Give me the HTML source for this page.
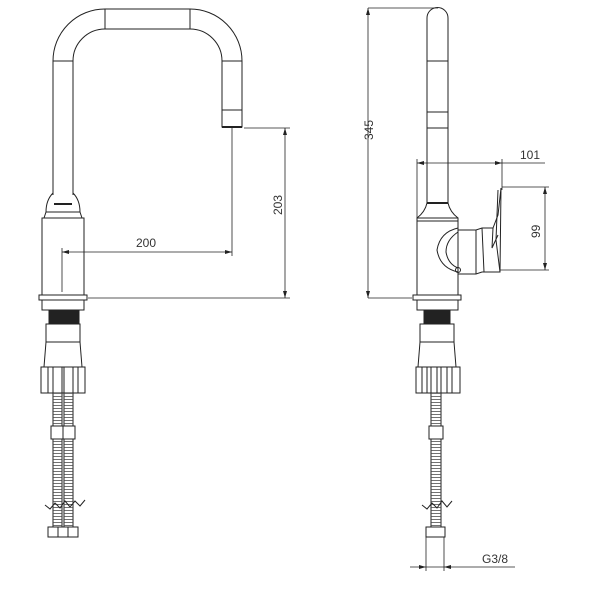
<!DOCTYPE html>
<html><head><style>
html,body{margin:0;padding:0;background:#fff;}
svg{display:block;}
text{font-family:"Liberation Sans",sans-serif;font-size:12px;fill:#333;}
</style></head><body>
<svg width="600" height="600" viewBox="0 0 600 600" xmlns="http://www.w3.org/2000/svg">
<g fill="none" stroke="#222" stroke-width="1">
<path d="M53,195 L53,61 A52,52 0 0 1 105,9 L190,9 A52,52 0 0 1 242,61 L242,110"/>
<path d="M73,195 L73,61 A32,32 0 0 1 105,29 L190,29 A32,32 0 0 1 222,61 L222,110"/>
<line x1="105" y1="9" x2="105" y2="29"/><line x1="190" y1="9" x2="190" y2="29"/>
<line x1="53" y1="61" x2="73" y2="61"/><line x1="222" y1="61" x2="242" y2="61"/>
<rect x="222" y="110" width="20" height="17"/>
<line x1="222" y1="127" x2="242" y2="127" stroke-width="2"/>
<path d="M53,193 Q46,200 46,212 L44,218 M73,193 Q80,200 80,212 L82,218"/>
<line x1="54" y1="204" x2="72" y2="204" stroke-width="2"/>
<line x1="46" y1="212" x2="80" y2="212"/>
<rect x="42" y="218" width="42" height="77"/>
<rect x="39" y="295" width="48" height="5"/>
<rect x="42" y="300" width="42" height="10"/>
<rect x="49" y="311" width="30" height="12" fill="#222"/>
<rect x="46" y="324" width="34" height="18"/>
<path d="M46,342 L44,367 L82,367 L80,342"/>
<rect x="41" y="367" width="44" height="26"/>
<path d="M48,367V393M53,367V393M62,367V393M64,367V393M73,367V393M78,367V393"/>
<rect x="53" y="393" width="9" height="134"/>
<rect x="64" y="393" width="9" height="134"/>
<line x1="57.5" y1="393" x2="57.5" y2="527" stroke-width="9" stroke-dasharray="0.7 2.3" stroke="#444"/>
<line x1="68.5" y1="393" x2="68.5" y2="527" stroke-width="9" stroke-dasharray="0.7 2.3" stroke="#444"/>
<rect x="51" y="426" width="12" height="13" fill="#fff"/>
<rect x="63" y="426" width="12" height="13" fill="#fff"/>
<rect x="48" y="527" width="30" height="10" fill="#fff"/>
<path d="M58,527V537M68,527V537"/>
<path d="M45,505 l5,4 l5,-6 l5,5 l5,-7 l5,6 l5,-6 l5,5 l5,-6"/>
<line x1="62" y1="252" x2="232" y2="252" stroke-width="0.8"/>
<line x1="232" y1="128" x2="232" y2="256" stroke-width="0.8"/>
<line x1="62" y1="248" x2="62" y2="292" stroke-width="0.8"/>
<line x1="244" y1="128" x2="290" y2="128" stroke-width="0.8"/>
<line x1="88" y1="298" x2="290" y2="298" stroke-width="0.8"/>
<line x1="285" y1="128" x2="285" y2="298" stroke-width="0.8"/>
</g>
<g fill="#222">
<path d="M62,252 l7,-2 v4z M232,252 l-7,-2 v4z M285,128 l-2,7 h4z M285,298 l-2,-7 h4z"/>
<path d="M368,8 l-2,7 h4z M368,298 l-2,-7 h4z M417,163 l7,-2 v4z M502,163 l-7,-2 v4z M545,187 l-2,7 h4z M545,270 l-2,-7 h4z M426,567 l-7,-2 v4z M444,567 l7,-2 v4z"/>
</g>
<text x="136" y="247">200</text>
<text x="0" y="0" transform="translate(282,215) rotate(-90)">203</text>
<g fill="none" stroke="#222" stroke-width="1">
<path d="M427,203 L427,18 A10.5,10.5 0 0 1 448,18 L448,203"/>
<line x1="427" y1="61" x2="448" y2="61"/>
<rect x="427" y="112" width="21" height="16"/>
<line x1="427" y1="203" x2="448" y2="203" stroke-width="2"/>
<path d="M427,203 Q425,212 417,218 M448,203 Q450,212 458,218"/>
<line x1="417" y1="218" x2="458" y2="218"/><line x1="417" y1="221" x2="458" y2="221"/>
<rect x="417" y="218" width="41" height="77"/>
<rect x="413" y="295" width="48" height="5"/>
<rect x="417" y="300" width="41" height="10"/>
<rect x="424" y="311" width="26" height="12" fill="#222"/>
<rect x="420" y="324" width="34" height="18"/>
<path d="M420,342 L418,367 L456,367 L454,342"/>
<rect x="416" y="367" width="44" height="26"/>
<path d="M422,367V393M427,367V393M431,367V393M437,367V393M441,367V393M447,367V393M452,367V393"/>
<path d="M458,228 Q440,232 437,250 Q440,268 458,272"/>
<path d="M458,232 Q446,240 446,252 Q448,264 458,268"/>
<circle cx="458" cy="270" r="2.5"/>
<path d="M458,230 L476,230 L482,228 L493,228 L498,215 L501,188 L500,272 L482,272 L476,274 L458,274"/>
<path d="M476,230 L476,274 M482,228 L484,272 M493,228 L492,248 L498,235"/>
<path d="M498,190 L496,240 L500,272"/>
<rect x="431" y="393" width="10" height="134"/>
<line x1="436" y1="393" x2="436" y2="527" stroke-width="10" stroke-dasharray="0.7 2.3" stroke="#444"/>
<rect x="429" y="426" width="14" height="13" fill="#fff"/>
<rect x="426" y="527" width="19" height="10" fill="#fff"/>
<path d="M422,505 l5,4 l5,-6 l5,5 l5,-7 l5,6 l5,-6"/>
<line x1="368" y1="8" x2="368" y2="298" stroke-width="0.8"/>
<line x1="368" y1="8" x2="438" y2="8" stroke-width="0.8"/>
<line x1="368" y1="298" x2="412" y2="298" stroke-width="0.8"/>
<line x1="417" y1="163" x2="545" y2="163" stroke-width="0.8"/>
<line x1="417" y1="159" x2="417" y2="218" stroke-width="0.8"/>
<line x1="502" y1="159" x2="502" y2="190" stroke-width="0.8"/>
<line x1="502" y1="187" x2="549" y2="187" stroke-width="0.8"/>
<line x1="500" y1="270" x2="549" y2="270" stroke-width="0.8"/>
<line x1="545" y1="187" x2="545" y2="270" stroke-width="0.8"/>
<line x1="426" y1="537" x2="426" y2="571" stroke-width="0.8"/>
<line x1="444" y1="537" x2="444" y2="571" stroke-width="0.8"/>
<line x1="410" y1="567" x2="515" y2="567" stroke-width="0.8"/>
</g>
<text x="520" y="159">101</text>
<text x="0" y="0" transform="translate(373,140) rotate(-90)">345</text>
<text x="0" y="0" transform="translate(540,238) rotate(-90)">99</text>
<text x="482" y="563">G3/8</text>
</svg>
</body></html>
